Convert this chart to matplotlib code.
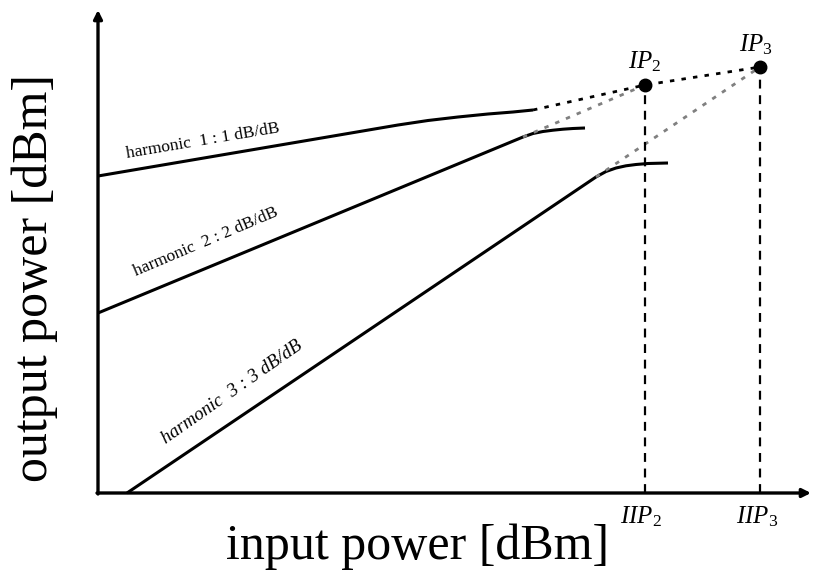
import matplotlib
matplotlib.use("Agg")
import matplotlib.pyplot as plt

plt.rcParams['font.family'] = ['Liberation Serif', 'DejaVu Serif']
plt.rcParams['mathtext.fontset'] = 'custom'
plt.rcParams['mathtext.it'] = 'Liberation Serif:italic'
plt.rcParams['mathtext.rm'] = 'Liberation Serif'

# harmonic curves (input power, output power), arbitrary dB units
h1_in = [0, 30.0, 33.0, 36.0, 39.0, 41.5, 43.5]
h1_out = [31.7, 36.8, 37.25, 37.6, 37.9, 38.1, 38.3]
h2_in = [0, 42.5, 43.5, 44.5, 45.5, 46.5, 47.5, 48.7]
h2_out = [18.0, 35.6, 35.95, 36.15, 36.28, 36.38, 36.45, 36.5]
h3_in = [2.9, 49.8, 50.8, 51.8, 52.8, 53.8, 55.0, 57.0]
h3_out = [0, 31.6, 32.15, 32.5, 32.72, 32.85, 32.95, 33.0]

# intercept points
ip2 = (54.7, 40.8)
ip3 = (66.2, 42.6)

labels = ['harmonic  1 : 1 dB/dB', 'harmonic  2 : 2 dB/dB', 'harmonic  3 : 3 dB/dB']

fig = plt.figure(figsize=(8.14, 5.70), dpi=100)
ax = fig.add_axes([0, 0, 1, 1])
ax.set_xlim(-9.8, 71.6)
ax.set_ylim(-7.7, 49.3)
ax.axis('off')

# axes with arrows
arrow = dict(arrowstyle='-|>,head_length=0.5,head_width=0.25', lw=2.4, color='black',
             shrinkA=0, shrinkB=0)
ax.annotate('', xy=(71.3, 0), xytext=(-0.1, 0), arrowprops=arrow)
ax.annotate('', xy=(0, 48.3), xytext=(0, -0.1), arrowprops=arrow)

# harmonic lines
for xs, ys in [(h1_in, h1_out), (h2_in, h2_out), (h3_in, h3_out)]:
    ax.plot(xs, ys, color='black', lw=2.2, solid_capstyle='butt', solid_joinstyle='round')

# extrapolations
ax.plot([h1_in[-1], ip2[0], ip3[0]], [h1_out[-1], ip2[1], ip3[1]],
        color='black', lw=2.0, dashes=(1.6, 2.6))
ax.plot([h2_in[1], ip2[0]], [h2_out[1], ip2[1]], color='#808080', lw=2.0, dashes=(1.6, 2.6))
ax.plot([h3_in[1], ip3[0]], [h3_out[1], ip3[1]], color='#808080', lw=2.0, dashes=(1.6, 2.6))

# vertical lines to input axis
ax.plot([ip2[0], ip2[0]], [0, ip2[1]], color='black', lw=1.6, dashes=(4, 3))
ax.plot([ip3[0], ip3[0]], [0, ip3[1]], color='black', lw=1.6, dashes=(4, 3))

# intercept dots
ax.plot([ip2[0], ip3[0]], [ip2[1], ip3[1]], 'o', color='black', ms=9)

ax.text(ip2[0], ip2[1] + 1.1, r'$IP_{\mathrm{2}}$', fontsize=18, ha='center', va='bottom')
ax.text(ip3[0] - 0.4, ip3[1] + 1.0, r'$IP_{\mathrm{3}}$', fontsize=18, ha='center', va='bottom')
ax.text(ip2[0] - 0.4, -1.1, r'$IIP_{\mathrm{2}}$', fontsize=18, ha='center', va='top')
ax.text(ip3[0] - 0.3, -1.1, r'$IIP_{\mathrm{3}}$', fontsize=18, ha='center', va='top')

# harmonic labels
ax.text(10.5, 35.2, labels[0], fontsize=12.5, rotation=9.6, ha='center', va='center',
        rotation_mode='anchor')
ax.text(10.8, 25.1, labels[1], fontsize=12.5, rotation=23, ha='center', va='center',
        rotation_mode='anchor')
ax.text(13.4, 10.1, labels[2], fontsize=13.5, rotation=35, ha='center', va='center',
        rotation_mode='anchor', style='italic')

# axis titles
ax.text(32.0, -5.4, 'input power [dBm]', fontsize=36, ha='center', va='center')
ax.text(-6.3, 21.5, 'output power [dBm]', fontsize=36, ha='center', va='center', rotation=90)

fig.savefig('out.png', dpi=100)
